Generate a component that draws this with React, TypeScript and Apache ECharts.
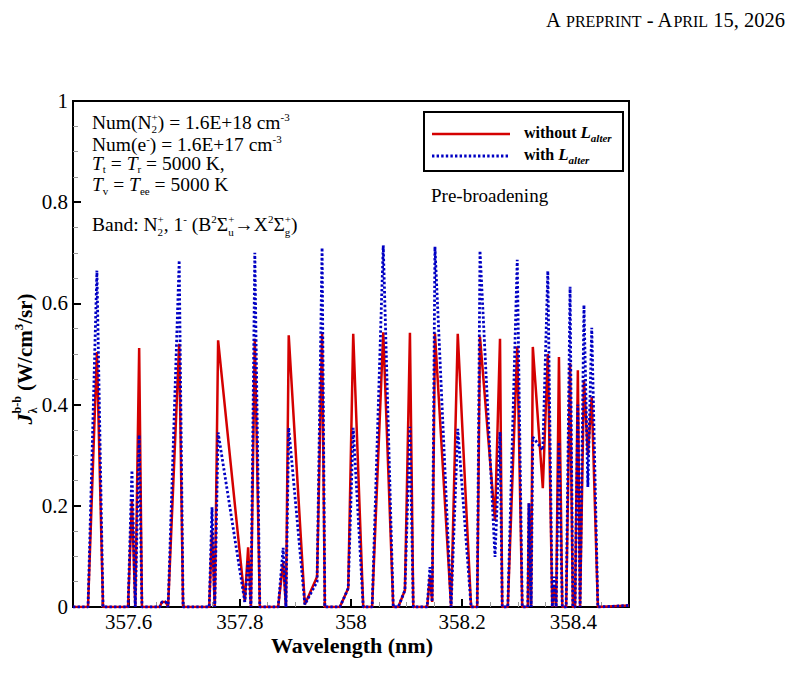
import React, { useEffect, useRef } from "react";
import * as echarts from "echarts";

// ---------- data ----------
const wavelength = [
  357.500, 357.527, 357.543, 357.554, 357.599, 357.606, 357.612, 357.619, 357.624, 357.656,
  357.660, 357.667, 357.671, 357.691, 357.698, 357.745, 357.750, 357.755, 357.761, 357.809,
  357.815, 357.820, 357.827, 357.836, 357.869, 357.878, 357.883, 357.888, 357.917, 357.939,
  357.948, 357.953, 357.980, 357.995, 358.004, 358.022, 358.038, 358.058, 358.076, 358.085,
  358.097, 358.106, 358.112, 358.137, 358.142, 358.146, 358.151, 358.180, 358.192, 358.216,
  358.227, 358.232, 358.259, 358.268, 358.272, 358.282, 358.299, 358.308, 358.318, 358.320,
  358.324, 358.327, 358.345, 358.354, 358.362, 358.365, 358.369, 358.374, 358.380, 358.387,
  358.394, 358.399, 358.403, 358.408, 358.412, 358.419, 358.426, 358.433, 358.444, 358.500,
];
const withoutLalter = [
  0, 0, 0.504, 0, 0, 0.21, 0, 0.512, 0, 0,
  0.01, 0.01, 0, 0.52, 0, 0, 0.15, 0, 0.527, 0.01,
  0.118, 0, 0.53, 0, 0, 0.088, 0, 0.537, 0.005, 0.06,
  0.54, 0, 0, 0.037, 0.54, 0, 0, 0.543, 0, 0,
  0.033, 0.542, 0, 0, 0.06, 0.01, 0.541, 0, 0.54, 0,
  0, 0.534, 0.17, 0.53, 0, 0, 0.515, 0, 0, 0.205,
  0, 0.514, 0.235, 0.5, 0, 0.04, 0, 0.494, 0, 0,
  0.482, 0, 0, 0.468, 0, 0.449, 0.3, 0.415, 0, 0.003,
];
const withLalter = [
  0, 0, 0.665, 0, 0, 0.27, 0, 0.34, 0, 0,
  0.01, 0.01, 0, 0.685, 0, 0, 0.197, 0, 0.345, 0.01,
  0.09, 0, 0.7, 0, 0, 0.117, 0, 0.354, 0.005, 0.05,
  0.71, 0, 0, 0.037, 0.354, 0, 0, 0.715, 0, 0,
  0.033, 0.356, 0, 0, 0.079, 0.01, 0.712, 0, 0.352, 0,
  0, 0.704, 0.099, 0.346, 0, 0, 0.686, 0, 0, 0.205,
  0, 0.336, 0.31, 0.664, 0, 0.06, 0, 0.326, 0, 0,
  0.633, 0, 0, 0.4, 0, 0.597, 0.237, 0.552, 0, 0.003,
];
const xMajorTicks = [357.6, 357.8, 358, 358.2, 358.4];
const xMinorTicks = [
  357.55, 357.65, 357.7, 357.75, 357.85, 357.9, 357.95,
  358.05, 358.1, 358.15, 358.25, 358.3, 358.35, 358.45,
];

// ---------- text layout helpers ----------
const FONT = "Liberation Serif";
const RED = "#d40000";
const BLUE = "#0000c4";

type Seg = { t: string; s: number; dy?: number; b?: boolean; i?: boolean; stack?: boolean };

let measureCtx: CanvasRenderingContext2D | null = null;
function measure(seg: Seg): number {
  if (!measureCtx) measureCtx = document.createElement("canvas").getContext("2d");
  const ctx = measureCtx!;
  ctx.font = `${seg.i ? "italic" : "normal"} ${seg.b ? "bold" : "normal"} ${seg.s}px ${FONT}`;
  return ctx.measureText(seg.t).width;
}

function txtStyle(text: string, size: number, bold = false, italic = false, align = "left") {
  return {
    text,
    fill: "#000",
    fontFamily: FONT,
    fontSize: size,
    fontWeight: bold ? "bold" : "normal",
    fontStyle: italic ? "italic" : "normal",
    align,
    verticalAlign: "middle",
  };
}

function layout(segs: Seg[], x0: number, baseline: number) {
  let x = x0;
  let prevStart = x0;
  const els: any[] = [];
  for (const seg of segs) {
    const start = seg.stack ? prevStart : x;
    const w = measure(seg);
    els.push({
      type: "text",
      x: start,
      y: baseline + (seg.dy || 0) - 0.34 * seg.s,
      style: txtStyle(seg.t, seg.s, !!seg.b, !!seg.i),
    });
    prevStart = start;
    x = Math.max(x, start + w);
  }
  return { els, width: x - x0 };
}

function widthOf(segs: Seg[]) {
  return layout(segs, 0, 0).width;
}

export default function App() {
  const ref = useRef<HTMLDivElement>(null);

  useEffect(() => {
    if (!ref.current) return;
    const chart = echarts.init(ref.current, undefined, { renderer: "svg" });

    const S = 19.5;
    const s = 11;
    const SUB = 5;
    const SUP = -8.5;
    const annotation: any[] = [];
    const lines: { segs: Seg[]; y: number }[] = [
      {
        y: 129,
        segs: [
          { t: "Num(N", s: S },
          { t: "2", s, dy: 3.5 },
          { t: "+", s, dy: SUP, stack: true },
          { t: ") = 1.6E+18 cm", s: S },
          { t: "-3", s, dy: SUP },
        ],
      },
      {
        y: 151,
        segs: [
          { t: "Num(e", s: S },
          { t: "-", s, dy: SUP },
          { t: ") = 1.6E+17 cm", s: S },
          { t: "-3", s, dy: SUP },
        ],
      },
      {
        y: 170,
        segs: [
          { t: "T", s: S, i: true },
          { t: "t", s, dy: 3 },
          { t: " = ", s: S },
          { t: "T", s: S, i: true },
          { t: "r", s, dy: 3 },
          { t: " = 5000 K,", s: S },
        ],
      },
      {
        y: 191,
        segs: [
          { t: "T", s: S, i: true },
          { t: "v", s, dy: 4 },
          { t: " = ", s: S },
          { t: "T", s: S, i: true },
          { t: "ee", s, dy: 4 },
          { t: " = 5000 K", s: S },
        ],
      },
      {
        y: 231,
        segs: [
          { t: "Band: N", s: S },
          { t: "2", s, dy: SUB },
          { t: "+", s, dy: SUP, stack: true },
          { t: ", 1", s: S },
          { t: "-", s, dy: SUP },
          { t: " (B", s: S },
          { t: "2", s, dy: SUP },
          { t: "Σ", s: S },
          { t: "u", s, dy: SUB },
          { t: "+", s, dy: SUP, stack: true },
          { t: "→X", s: S },
          { t: "2", s, dy: SUP },
          { t: "Σ", s: S },
          { t: "g", s, dy: SUB },
          { t: "+", s, dy: SUP, stack: true },
          { t: ")", s: S },
        ],
      },
    ];
    for (const l of lines) annotation.push(...layout(l.segs, 92, l.y).els);

    // legend texts
    const legWithout: Seg[] = [
      { t: "without ", s: 16, b: true },
      { t: "L", s: 17, b: true, i: true },
      { t: "alter", s: 11, b: true, i: true, dy: 4 },
    ];
    const legWith: Seg[] = [
      { t: "with ", s: 16, b: true },
      { t: "L", s: 17, b: true, i: true },
      { t: "alter", s: 11, b: true, i: true, dy: 4 },
    ];

    // y axis name
    const yName: Seg[] = [
      { t: "J", s: 22, b: true, i: true },
      { t: "λ", s: 12, b: true, dy: 5 },
      { t: "b-b", s: 12, b: true, dy: -11, stack: true },
      { t: " (W/cm", s: 21, b: true },
      { t: "3", s: 13, b: true, dy: -9 },
      { t: "/sr)", s: 21, b: true },
    ];
    const yNameW = widthOf(yName);

    // header
    const header: Seg[] = [
      { t: "A ", s: 20.5 },
      { t: "PREPRINT", s: 16 },
      { t: " - A", s: 20.5 },
      { t: "PRIL", s: 16 },
      { t: " 15, 2026", s: 20.5 },
    ];
    const headerW = widthOf(header);

    const axisLabelStyle = {
      color: "#000",
      fontFamily: FONT,
      fontSize: 21,
      fontWeight: "normal",
      fontStyle: "normal",
    };

    const option: any = {
      animation: false,
      backgroundColor: "#fff",
      textStyle: { fontFamily: FONT },
      grid: {
        left: 73,
        top: 101,
        width: 556,
        height: 506,
        show: true,
        borderColor: "#000",
        borderWidth: 2,
        backgroundColor: "transparent",
      },
      xAxis: [
        {
          type: "value",
          min: 357.5,
          max: 358.5,
          position: "bottom",
          axisLine: { show: true, onZero: false, lineStyle: { color: "#000", width: 2 } },
          axisTick: {
            show: true,
            inside: true,
            length: 8,
            customValues: xMajorTicks,
            lineStyle: { color: "#000", width: 2 },
          },
          axisLabel: { ...axisLabelStyle, customValues: xMajorTicks, margin: 4 },
          splitLine: { show: false },
        },
        {
          type: "value",
          min: 357.5,
          max: 358.5,
          position: "bottom",
          axisLine: { show: false, onZero: false },
          axisTick: {
            show: true,
            inside: true,
            length: 5,
            customValues: xMinorTicks,
            lineStyle: { color: "#999", width: 1 },
          },
          axisLabel: { show: false },
          splitLine: { show: false },
        },
      ],
      yAxis: {
        type: "value",
        min: 0,
        max: 1,
        interval: 0.2,
        axisLine: { show: true, onZero: false, lineStyle: { color: "#000", width: 2 } },
        axisTick: { show: true, inside: true, length: 8, lineStyle: { color: "#000", width: 2 } },
        minorTick: { show: true, splitNumber: 4, length: 5, lineStyle: { color: "#999", width: 1 } },
        axisLabel: { ...axisLabelStyle, margin: 5 },
        splitLine: { show: false },
        minorSplitLine: { show: false },
      },
      series: [
        {
          type: "line",
          name: "without L_alter",
          xAxisIndex: 0,
          data: wavelength.map((w, i) => [w, withoutLalter[i]]),
          showSymbol: false,
          symbol: "none",
          lineStyle: { color: RED, width: 2.5 },
          z: 2,
        },
        {
          type: "line",
          name: "with L_alter",
          xAxisIndex: 0,
          data: wavelength.map((w, i) => [w, withLalter[i]]),
          showSymbol: false,
          symbol: "none",
          lineStyle: { color: BLUE, width: 2.8, type: [2.4, 2.2], cap: "butt" },
          z: 3,
        },
      ],
      graphic: [
        // header
        ...layout(header, 785 - headerW, 27).els,
        // annotations
        ...annotation,
        // legend
        {
          type: "rect",
          shape: { x: 424, y: 112, width: 199, height: 59 },
          style: { fill: "#fff", stroke: "#000", lineWidth: 2 },
          z: 10,
        },
        {
          type: "line",
          shape: { x1: 432, y1: 134, x2: 510, y2: 134 },
          style: { stroke: RED, lineWidth: 2.5 },
          z: 11,
        },
        {
          type: "line",
          shape: { x1: 432, y1: 156, x2: 510, y2: 156 },
          style: { stroke: BLUE, lineWidth: 2.8, lineDash: [2.4, 2.2] },
          z: 11,
        },
        ...layout(legWithout, 524, 138).els.map((e) => ({ ...e, z: 11 })),
        ...layout(legWith, 524, 160).els.map((e) => ({ ...e, z: 11 })),
        // Pre-broadening
        {
          type: "text",
          x: 431,
          y: 202 - 0.34 * 19,
          style: txtStyle("Pre-broadening", 19),
        },
        // x axis name
        {
          type: "text",
          x: 352,
          y: 645,
          style: txtStyle("Wavelength (nm)", 22, true, false, "center"),
        },
        // y axis name (rotated)
        {
          type: "group",
          x: 32,
          y: 359,
          rotation: Math.PI / 2,
          children: layout(yName, -yNameW / 2, 0).els,
        },
      ],
    };

    chart.setOption(option);
    return () => chart.dispose();
  }, []);

  return (
    <div
      ref={ref}
      style={{ position: "fixed", left: 0, top: 0, width: 802, height: 677, background: "#fff" }}
    />
  );
}
